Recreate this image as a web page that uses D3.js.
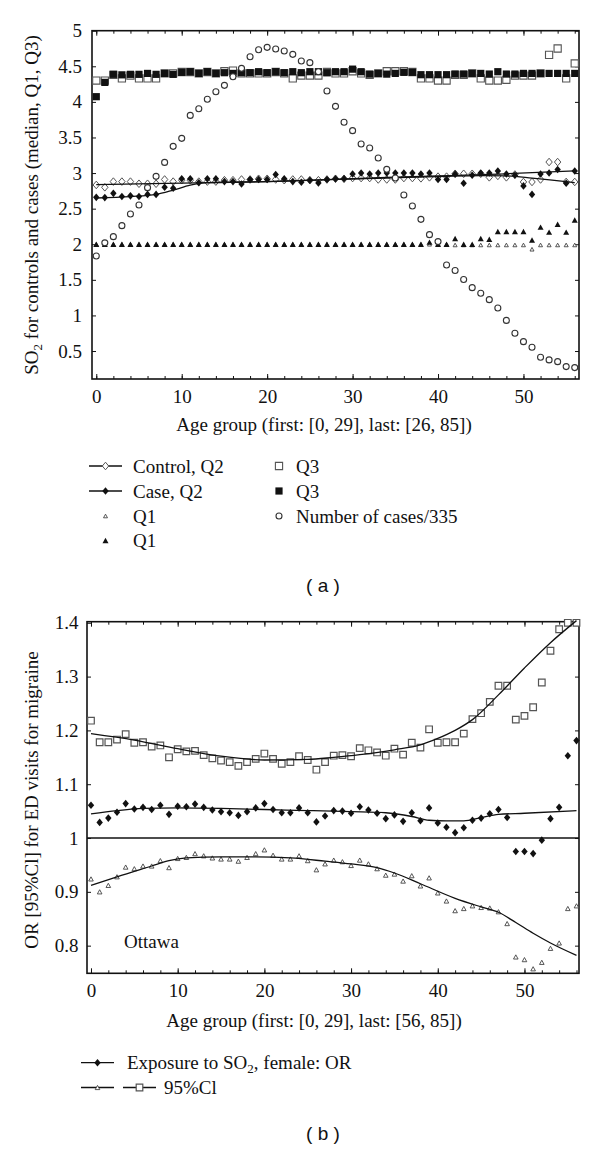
<!DOCTYPE html>
<html><head><meta charset="utf-8">
<script src="https://cdn.jsdelivr.net/npm/d3@7"></script>
<style>
body{margin:0;background:#fff;}
svg{display:block;}
text{font-family:"Liberation Serif","Times New Roman",serif;font-size:19px;fill:#111;}
text.panel{font-family:"Liberation Sans",Arial,sans-serif;font-size:19px;}
</style></head><body>
<svg id="c" width="600" height="1149"></svg>
<script>
// ---------- data ----------
const ageGroups = d3.range(0, 57);

// Panel (a)
const numCases = [1.835,2.02,2.107,2.261,2.425,2.551,2.795,2.954,3.15,3.375,
  3.488,3.81,3.904,4.036,4.143,4.232,4.354,4.471,4.635,4.733,
  4.766,4.743,4.714,4.668,4.574,4.551,4.424,4.153,3.937,3.713,
  3.596,3.408,3.352,3.212,3.052,2.931,2.692,2.537,2.35,2.135,
  2.037,1.709,1.632,1.504,1.39,1.311,1.222,1.105,0.93,0.75,
  0.632,0.553,0.413,0.375,0.351,0.281,0.267];
const caseQ3 = [4.073,4.274,4.387,4.38,4.387,4.387,4.40,4.387,4.40,4.387,
  4.415,4.424,4.40,4.424,4.40,4.41,4.40,4.41,4.41,4.424,
  4.41,4.424,4.41,4.424,4.41,4.424,4.424,4.41,4.424,4.424,
  4.46,4.424,4.39,4.40,4.39,4.40,4.415,4.415,4.382,4.382,
  4.382,4.382,4.391,4.391,4.40,4.40,4.391,4.424,4.391,4.391,
  4.40,4.40,4.40,4.40,4.40,4.40,4.40];
const controlQ3 = [4.30,4.30,4.38,4.33,4.37,4.33,4.33,4.33,4.40,4.40,
  4.42,4.42,4.40,4.42,4.40,4.43,4.44,4.40,4.40,4.40,
  4.40,4.42,4.40,4.33,4.37,4.37,4.37,4.42,4.40,4.40,
  4.43,4.40,4.38,4.40,4.43,4.43,4.43,4.42,4.33,4.33,
  4.30,4.30,4.38,4.38,4.40,4.33,4.30,4.30,4.31,4.37,
  4.37,4.37,4.40,4.66,4.75,4.33,4.54];
const caseQ1 = [2,2,2,2,2,2,2,2,2,2, 2,2,2,2,2,2,2,2,2,2,
  2,2,2,2,2,2,2,2,2,2, 2,2,2,2,2,2,2,2,2,2.03,
  2,2,2.08,2,2,2.08,2.07,2.18,2.18,2.18,
  2.18,2.06,2.24,2.17,2.28,2.17,2.34];
const controlQ1 = [2,2,2,2,2,2,2,2,2,2, 2,2,2,2,2,2,2,2,2,2,
  2,2,2,2,2,2,2,2,2,2, 2,2,2,2,2,2,2,2,2,2,
  2,2,1.99,1.99,1.99,1.99,1.99,1.99,1.99,1.99,
  1.99,1.93,1.99,1.99,1.99,1.99,1.99];
const controlQ2 = [2.833,2.80,2.88,2.88,2.88,2.85,2.85,2.85,2.91,2.88,
  2.90,2.90,2.88,2.88,2.88,2.90,2.90,2.91,2.91,2.92,
  2.92,2.91,2.90,2.91,2.91,2.90,2.90,2.91,2.92,2.92,
  2.93,2.93,2.93,2.91,2.91,2.91,2.93,2.93,2.926,2.94,
  2.95,2.95,2.99,2.99,2.99,2.99,2.94,2.96,2.94,2.98,
  2.875,2.875,2.91,3.155,3.155,2.875,2.875];
const caseQ2 = [2.659,2.655,2.715,2.67,2.68,2.67,2.70,2.70,2.80,2.786,
  2.92,2.92,2.865,2.92,2.92,2.88,2.88,2.846,2.91,2.91,
  2.91,2.98,2.92,2.88,2.87,2.90,2.86,2.91,2.92,2.92,
  2.986,3.0,2.986,3.0,3.0,3.0,3.0,3.0,2.986,3.0,
  2.91,2.91,2.986,2.856,2.97,3.0,3.0,3.03,2.986,2.97,
  2.82,2.70,2.986,3.0,3.05,2.856,3.03];
const controlFitX = [0,10,20,28,34,40,45,48,51,56];
const controlFitY = [2.837,2.86,2.88,2.91,2.93,2.95,2.965,2.96,2.93,2.865];
const caseFitX = [0,4,7,9,11,13,20,28,34,40,48,56];
const caseFitY = [2.65,2.67,2.70,2.76,2.83,2.865,2.88,2.91,2.94,2.96,2.99,3.03];
const yTicksA = [0.5,1,1.5,2,2.5,3,3.5,4,4.5,5];

// Panel (b)
const upperCI = [1.218,1.178,1.178,1.183,1.193,1.177,1.178,1.170,1.172,1.150,
  1.165,1.161,1.162,1.154,1.148,1.144,1.141,1.134,1.141,1.147,
  1.157,1.147,1.138,1.141,1.152,1.145,1.127,1.141,1.153,1.154,
  1.152,1.167,1.163,1.159,1.153,1.166,1.155,1.177,1.168,1.202,
  1.177,1.178,1.178,1.194,1.221,1.232,1.253,1.283,1.283,1.220,
  1.227,1.243,1.289,1.348,1.388,1.40,1.40];
const oddsRatio = [1.061,1.029,1.037,1.048,1.064,1.054,1.057,1.053,1.061,1.044,
  1.059,1.058,1.063,1.057,1.052,1.049,1.047,1.042,1.049,1.056,
  1.064,1.053,1.047,1.047,1.056,1.047,1.030,1.041,1.051,1.050,
  1.046,1.058,1.052,1.046,1.036,1.043,1.031,1.047,1.032,1.056,
  1.028,1.020,1.010,1.019,1.033,1.037,1.045,1.053,1.038,0.975,
  0.975,0.971,0.996,1.036,1.057,1.153,1.181];
const lowerCI = [0.924,0.900,0.912,0.928,0.946,0.943,0.948,0.948,0.958,0.945,
  0.962,0.964,0.971,0.967,0.963,0.961,0.961,0.957,0.964,0.971,
  0.978,0.968,0.961,0.961,0.967,0.958,0.941,0.952,0.959,0.956,
  0.949,0.959,0.952,0.943,0.931,0.933,0.920,0.930,0.911,0.926,
  0.898,0.883,0.865,0.869,0.874,0.871,0.870,0.863,0.841,0.779,
  0.774,0.757,0.769,0.795,0.805,0.869,0.874];
const upperFitX = [0,5,10,15,20,25,28,31,35,38,40,42,44,47,50,53,56];
const upperFitY = [1.194,1.182,1.166,1.152,1.145,1.146,1.150,1.155,1.164,1.173,1.185,1.20,1.22,1.266,1.316,1.363,1.404];
const orFitX = [0,3,6,10,15,20,25,30,34,37,39,41,43,45,47,50,56];
const orFitY = [1.045,1.051,1.055,1.056,1.055,1.053,1.051,1.049,1.047,1.04,1.033,1.032,1.032,1.038,1.044,1.046,1.051];
const lowerFitX = [0,3,7,9,11,15,19,23,27,30,33,35,38,42,45,47,49,51,53,56];
const lowerFitY = [0.912,0.928,0.948,0.958,0.963,0.965,0.965,0.963,0.957,0.952,0.945,0.935,0.915,0.888,0.872,0.862,0.843,0.823,0.805,0.782];
const yTicksB = [0.8,0.9,1,1.1,1.2,1.3,1.4];
const refLine = [1];

const xMajor = [0,10,20,30,40,50];
const xMinor = d3.range(0,57,2);

// ---------- drawing ----------
const svg = d3.select("#c");
const INK = "#111";

const diamondType = (w,h)=>({draw(ctx){ctx.moveTo(0,-h/2);ctx.lineTo(w/2,0);ctx.lineTo(0,h/2);ctx.lineTo(-w/2,0);ctx.closePath();}});
const triType = (w,h)=>({draw(ctx){ctx.moveTo(0,-h/2);ctx.lineTo(w/2,h/2);ctx.lineTo(-w/2,h/2);ctx.closePath();}});
const sym = {
  sqA: d3.symbol(d3.symbolSquare, 7.2*7.2)(),
  sqB: d3.symbol(d3.symbolSquare, 6.6*6.6)(),
  circ: d3.symbol(d3.symbolCircle, Math.PI*3*3)(),
  dia: d3.symbol(diamondType(6.4,7.6))(),
  triBig: d3.symbol(triType(6,5.4))(),
  triSmall: d3.symbol(triType(4,3.6))(),
  triB: d3.symbol(triType(4.6,4.2))()
};

function frame(x, y, yTicks, yPad, xPad){
  const [x0,x1] = x.range(), [yb,yt] = y.range();
  const g = svg.append("g").attr("color", INK);
  const fmt = d3.format("~g");
  g.append("g").attr("transform",`translate(0,${yb})`)
    .call(d3.axisBottom(x).tickValues(xMinor).tickSizeInner(-3).tickSizeOuter(0).tickFormat(""));
  g.append("g").attr("transform",`translate(0,${yt})`)
    .call(d3.axisTop(x).tickValues(xMinor).tickSizeInner(-3).tickSizeOuter(0).tickFormat(""));
  g.append("g").attr("transform",`translate(0,${yb})`)
    .call(d3.axisBottom(x).tickValues(xMajor).tickSizeInner(-5).tickSizeOuter(0).tickPadding(xPad).tickFormat(d3.format("d")));
  g.append("g").attr("transform",`translate(0,${yt})`)
    .call(d3.axisTop(x).tickValues(xMajor).tickSizeInner(-5).tickSizeOuter(0).tickFormat(""));
  g.append("g").attr("transform",`translate(${x0},0)`)
    .call(d3.axisLeft(y).tickValues(yTicks).tickSizeInner(-4).tickSizeOuter(0).tickPadding(yPad).tickFormat(fmt));
  g.append("g").attr("transform",`translate(${x1},0)`)
    .call(d3.axisRight(y).tickValues(yTicks).tickSizeInner(-4).tickSizeOuter(0).tickFormat(""));
  g.selectAll(".domain").remove();
  g.selectAll(".tick line").attr("stroke-width",1);
  g.append("rect").attr("x",x0).attr("y",yt).attr("width",x1-x0).attr("height",yb-yt)
    .attr("fill","none").attr("stroke",INK).attr("stroke-width",1.6);
}

function marks(g, xs, ys, x, y, d, fill, stroke, sw){
  g.append("g").selectAll("path").data(xs.map((v,i)=>[v,ys[i]])).join("path")
    .attr("transform",p=>`translate(${x(p[0])},${y(p[1])})`)
    .attr("d",d).attr("fill",fill).attr("stroke",stroke).attr("stroke-width",sw);
}
function curve(g, xs, ys, x, y){
  g.append("path").datum(xs.map((v,i)=>[v,ys[i]]))
    .attr("d", d3.line().x(p=>x(p[0])).y(p=>y(p[1])).curve(d3.curveMonotoneX))
    .attr("fill","none").attr("stroke",INK).attr("stroke-width",1.3);
}
function so2(t){
  t.append("tspan").text("SO");
  t.append("tspan").attr("dy",4).style("font-size","13px").text("2");
  return t.append("tspan").attr("dy",-4);
}

// ===== Panel (a) =====
const xA = d3.scaleLinear().domain([-0.5,56.5]).range([92,579]);
const yA = d3.scaleLinear().domain([0.107,5]).range([379,30.7]);
frame(xA, yA, yTicksA, 10, 10.5);
const gA = svg.append("g");
marks(gA, ageGroups, controlQ1, xA, yA, sym.triSmall, "#fff", "#444", 0.9);
marks(gA, ageGroups, caseQ1, xA, yA, sym.triBig, INK, "none", 0);
marks(gA, ageGroups, controlQ3, xA, yA, sym.sqA, "#fff", "#555", 1.1);
marks(gA, ageGroups, caseQ3, xA, yA, sym.sqA, INK, "none", 0);
marks(gA, ageGroups, controlQ2, xA, yA, sym.dia, "#fff", "#555", 1);
marks(gA, ageGroups, caseQ2, xA, yA, sym.dia, INK, "none", 0);
curve(gA, controlFitX, controlFitY, xA, yA);
curve(gA, caseFitX, caseFitY, xA, yA);
marks(gA, ageGroups, numCases, xA, yA, sym.circ, "#fff", "#333", 1.1);

svg.append("text").attr("x",324).attr("y",431).attr("text-anchor","middle")
  .text("Age group (first: [0, 29], last: [26, 85])");
{
  const t = svg.append("text").attr("transform","translate(38,205) rotate(-90)").attr("text-anchor","middle");
  so2(t).text(" for controls and cases (median, Q1, Q3)");
}
// legend (a)
const legA = svg.append("g");
const legRowsA = [466, 491, 516, 540.5];
[[89,122]].forEach(()=>{});
legA.append("line").attr("x1",89).attr("x2",122).attr("y1",legRowsA[0]).attr("y2",legRowsA[0]).attr("stroke",INK).attr("stroke-width",1.3);
legA.append("line").attr("x1",89).attr("x2",122).attr("y1",legRowsA[1]).attr("y2",legRowsA[1]).attr("stroke",INK).attr("stroke-width",1.3);
const legItemsA = [
  {x:105.5,y:legRowsA[0],d:sym.dia,fill:"#fff",stroke:"#555",sw:1,label:"Control, Q2"},
  {x:105.5,y:legRowsA[1],d:sym.dia,fill:INK,stroke:"none",sw:0,label:"Case, Q2"},
  {x:105.5,y:legRowsA[2],d:sym.triSmall,fill:"#fff",stroke:"#444",sw:0.9,label:"Q1"},
  {x:105.5,y:legRowsA[3],d:sym.triBig,fill:INK,stroke:"none",sw:0,label:"Q1"},
  {x:279,y:legRowsA[0],d:sym.sqA,fill:"#fff",stroke:"#555",sw:1.1,label:"Q3"},
  {x:279,y:legRowsA[1],d:sym.sqA,fill:INK,stroke:"none",sw:0,label:"Q3"},
  {x:279,y:legRowsA[2],d:sym.circ,fill:"#fff",stroke:"#333",sw:1.1,label:"Number of cases/335"}
];
legItemsA.forEach(it=>{
  legA.append("path").attr("transform",`translate(${it.x},${it.y})`).attr("d",it.d)
    .attr("fill",it.fill).attr("stroke",it.stroke).attr("stroke-width",it.sw);
  legA.append("text").attr("x", it.x<200?133:296).attr("y", it.y+6.5).text(it.label);
});
svg.append("text").attr("class","panel").attr("x",323).attr("y",592).attr("text-anchor","middle").text("( a )");

// ===== Panel (b) =====
const xB = d3.scaleLinear().domain([-0.46,56.29]).range([87,579]);
const yB = d3.scaleLinear().domain([0.7486,1.402]).range([973.3,621.7]);
frame(xB, yB, yTicksB, 8.5, 10.7);
const gB = svg.append("g");
gB.selectAll("line.ref").data(refLine).join("line").attr("class","ref")
  .attr("x1",87).attr("x2",579).attr("y1",d=>yB(d)).attr("y2",d=>yB(d))
  .attr("stroke",INK).attr("stroke-width",1.4);
marks(gB, ageGroups, upperCI, xB, yB, sym.sqB, "#fff", "#555", 1.2);
marks(gB, ageGroups, lowerCI, xB, yB, sym.triB, "#fff", "#444", 0.9);
marks(gB, ageGroups, oddsRatio, xB, yB, sym.dia, INK, "none", 0);
curve(gB, upperFitX, upperFitY, xB, yB);
curve(gB, orFitX, orFitY, xB, yB);
curve(gB, lowerFitX, lowerFitY, xB, yB);
svg.append("text").attr("x",124).attr("y",948).text("Ottawa");
svg.append("text").attr("x",314).attr("y",1027).attr("text-anchor","middle")
  .text("Age group (first: [0, 29], last: [56, 85])");
svg.append("text").attr("transform","translate(38,800) rotate(-90)").attr("text-anchor","middle")
  .text("OR [95%Cl] for ED visits for migraine");
// legend (b)
const legB = svg.append("g");
const legRowsB = [1062.7, 1087.5];
[[81,114,legRowsB[0]],[81,114,legRowsB[1]],[123,156,legRowsB[1]]].forEach(s=>{
  legB.append("line").attr("x1",s[0]).attr("x2",s[1]).attr("y1",s[2]).attr("y2",s[2]).attr("stroke",INK).attr("stroke-width",1.3);
});
legB.append("path").attr("transform",`translate(97.5,${legRowsB[0]})`).attr("d",sym.dia).attr("fill",INK);
legB.append("path").attr("transform",`translate(97.5,${legRowsB[1]})`).attr("d",sym.triB).attr("fill","#fff").attr("stroke","#444").attr("stroke-width",0.9);
legB.append("path").attr("transform",`translate(139.5,${legRowsB[1]})`).attr("d",sym.sqB).attr("fill","#fff").attr("stroke","#555").attr("stroke-width",1.2);
{
  const t = legB.append("text").attr("x",127).attr("y",legRowsB[0]+6.5);
  t.append("tspan").text("Exposure to ");
  so2(t).text(", female: OR");
}
legB.append("text").attr("x",164).attr("y",legRowsB[1]+6.5).text("95%Cl");
svg.append("text").attr("class","panel").attr("x",323).attr("y",1140).attr("text-anchor","middle").text("( b )");
</script>
</body></html>
